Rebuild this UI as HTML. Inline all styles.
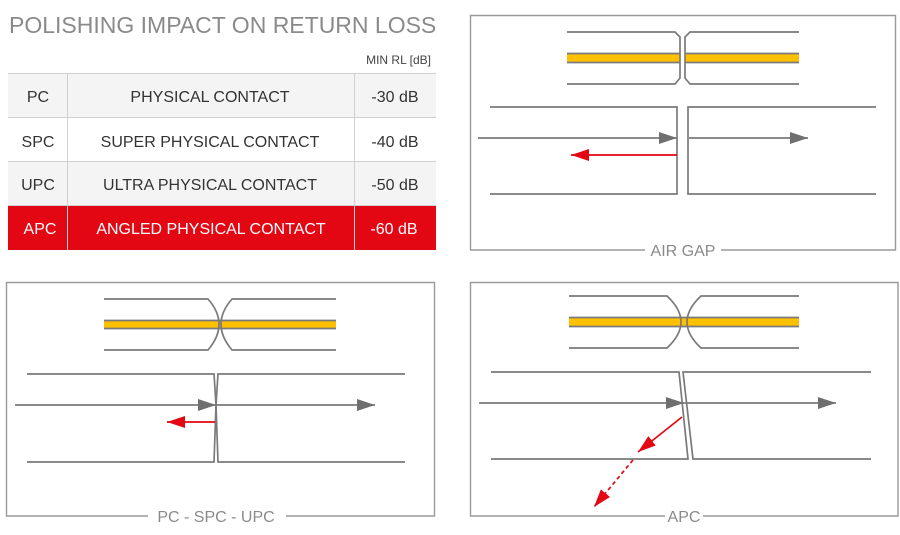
<!DOCTYPE html>
<html><head><meta charset="utf-8"><style>
html,body{margin:0;padding:0;background:#fff;}
body{width:900px;height:535px;overflow:hidden;position:relative;font-family:"Liberation Sans",sans-serif;}
</style></head><body>
<svg width="900" height="535" viewBox="0 0 900 535" xmlns="http://www.w3.org/2000/svg" style="position:absolute;left:0;top:0;font-family:'Liberation Sans',sans-serif">
<defs>
<marker id="ag" markerWidth="18" markerHeight="12" refX="18" refY="6" orient="auto" markerUnits="userSpaceOnUse"><path d="M0,0 L18,6 L0,12 Z" fill="#6f6f6f"/></marker>
<marker id="ar" markerWidth="18" markerHeight="12" refX="18" refY="6" orient="auto" markerUnits="userSpaceOnUse"><path d="M0,0 L18,6 L0,12 Z" fill="#e30613"/></marker>
</defs>
<text x="9" y="33" font-size="23" fill="#8a8a8a">POLISHING IMPACT ON RETURN LOSS</text>
<text x="431" y="64" font-size="12" fill="#444" text-anchor="end">MIN RL [dB]</text>
<rect x="8" y="73" width="428" height="44" fill="#f4f4f4"/>
<rect x="8" y="117" width="428" height="45" fill="#fff"/>
<rect x="8" y="162" width="428" height="43" fill="#f4f4f4"/>
<rect x="8" y="205" width="428" height="45" fill="#e30613"/>
<g stroke="#d0d0d0" stroke-width="1">
<line x1="8" y1="73.5" x2="436" y2="73.5"/><line x1="8" y1="117.5" x2="436" y2="117.5"/><line x1="8" y1="161.5" x2="436" y2="161.5"/><line x1="8" y1="205.5" x2="436" y2="205.5"/>
<line x1="67.5" y1="73" x2="67.5" y2="250"/><line x1="354.5" y1="73" x2="354.5" y2="250"/>
</g>
<g font-size="16" fill="#333" text-anchor="middle">
<text x="38" y="102">PC</text><text x="210" y="102">PHYSICAL CONTACT</text><text x="395" y="102">-30 dB</text>
<text x="38" y="147">SPC</text><text x="210" y="147">SUPER PHYSICAL CONTACT</text><text x="395" y="147">-40 dB</text>
<text x="38" y="190">UPC</text><text x="210" y="190">ULTRA PHYSICAL CONTACT</text><text x="395" y="190">-50 dB</text>
<g fill="#fff"><text x="40" y="234">APC</text><text x="211" y="234">ANGLED PHYSICAL CONTACT</text><text x="394" y="234">-60 dB</text></g>
</g>
<g fill="none" stroke="#9a9a9a" stroke-width="1.4">
<path d="M645,250 H470.5 V15.5 H895.5 V250 H721"/>
<path d="M148,516 H6.5 V282.5 H434.5 V516 H286"/>
<path d="M665,516 H470.5 V282.5 H898 V516 H703"/>
</g>
<g font-size="16" fill="#8a8a8a" text-anchor="middle">
<text x="683" y="256">AIR GAP</text>
<text x="216" y="522">PC - SPC - UPC</text>
<text x="684" y="522">APC</text>
</g>
<rect x="567" y="54" width="113" height="8" fill="#ffc000"/><rect x="685" y="54" width="114" height="8" fill="#ffc000"/>
<g fill="none" stroke="#7a7a7a" stroke-width="1.7">
<line x1="567" y1="53.5" x2="680" y2="53.5"/><line x1="567" y1="62.5" x2="680" y2="62.5"/>
<line x1="685" y1="53.5" x2="799" y2="53.5"/><line x1="685" y1="62.5" x2="799" y2="62.5"/>
<path d="M567,32 H675 L680,37 V78 L675,84 H567"/>
<path d="M799,32 H690 L685,37 V78 L690,84 H799"/>
<path d="M490,107 H677 V194 H490"/>
<path d="M876,107 H688 V194 H876"/>
<line x1="478" y1="138" x2="677" y2="138" marker-end="url(#ag)"/>
<line x1="689" y1="138" x2="808" y2="138" marker-end="url(#ag)"/>
</g>
<line x1="677" y1="155" x2="571" y2="155" stroke="#e30613" stroke-width="1.7" marker-end="url(#ar)"/>
<rect x="104" y="321" width="232" height="7" fill="#ffc000"/>
<g fill="none" stroke="#7a7a7a" stroke-width="1.7">
<line x1="104" y1="320.5" x2="336" y2="320.5"/><line x1="104" y1="328.5" x2="336" y2="328.5"/>
<path d="M104,299 H208 Q230,324 208,350 H104"/>
<path d="M336,299 H232 Q210,324 232,350 H336"/>
<path d="M27,374 H214 L216,405 L214,462 H27"/>
<path d="M405,374 H218 L216,405 L218,462 H405"/>
<line x1="15" y1="405" x2="216" y2="405" marker-end="url(#ag)"/>
<line x1="216" y1="405" x2="375" y2="405" marker-end="url(#ag)"/>
</g>
<line x1="215" y1="422" x2="167" y2="422" stroke="#e30613" stroke-width="1.7" marker-end="url(#ar)"/>
<rect x="569" y="318" width="230" height="8" fill="#ffc000"/>
<g fill="none" stroke="#7a7a7a" stroke-width="1.7">
<line x1="569" y1="317.5" x2="799" y2="317.5"/><line x1="569" y1="326.5" x2="799" y2="326.5"/>
<path d="M569,296 H667 Q695,322 667,348 H569"/>
<path d="M799,296 H701 Q673,322 701,348 H799"/>
<path d="M491,372 H679 L688,459 H491"/>
<path d="M871,372 H683 L693,459 H871"/>
<line x1="479" y1="403" x2="684" y2="403" marker-end="url(#ag)"/>
<line x1="684" y1="403" x2="836" y2="403" marker-end="url(#ag)"/>
</g>
<line x1="682" y1="417" x2="638" y2="452" stroke="#e30613" stroke-width="1.7" marker-end="url(#ar)"/>
<line x1="633" y1="460" x2="594" y2="507" stroke="#e30613" stroke-width="1.7" stroke-dasharray="4,3" marker-end="url(#ar)"/>
</svg>
</body></html>
